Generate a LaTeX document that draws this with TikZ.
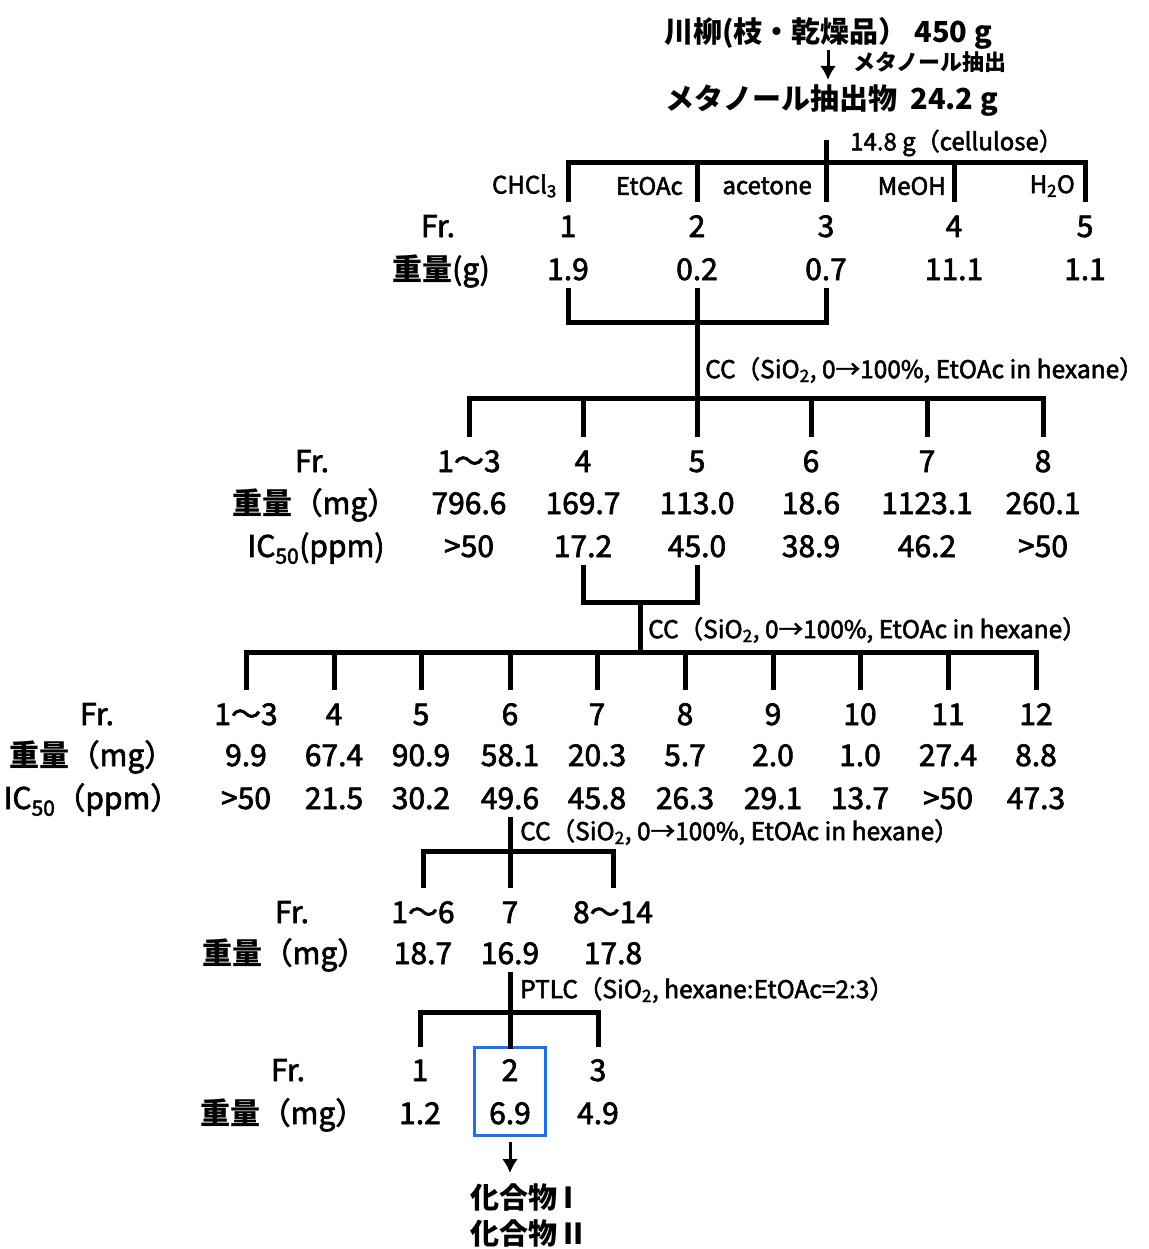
\documentclass[tikz,border=0pt]{standalone}
\usepackage{fontspec}
\setmainfont{Noto Sans CJK JP}[UprightFeatures={FakeBold=2.2}]
\usetikzlibrary{arrows.meta,calc,positioning,fit}
\definecolor{selblue}{RGB}{26,110,255}

\begin{document}
\begin{tikzpicture}[x=1pt,y=-1pt,
  br/.style={line width=5pt,line cap=rect},
  num/.style={inner sep=0pt,text height=22pt,text depth=0pt,font=\fontsize{30}{34}\selectfont},
  big/.style={inner sep=0pt,font=\bfseries\fontsize{29}{34}\selectfont},
  cond/.style={inner sep=0pt,anchor=west,font=\fontsize{24.5}{29}\selectfont},
  sel/.style={draw=selblue,line width=3pt,inner xsep=14pt,inner ysep=11pt},
  arr/.style={line width=3pt,-{Latex[length=14pt,width=16pt]}}]
\useasboundingbox (0,0) rectangle (1148,1249);

% extraction
\node[big] (t0) at (828,33) {川柳(枝・乾燥品） 450 g};
\node[big] (t1) at (832,101) {メタノール抽出物 \ 24.2 g};
\draw[arr,shorten <=1pt,shorten >=5pt] (t0.south) -- (t0.south |- t1.north);
\node[cond,font=\bfseries\fontsize{22}{26}\selectfont] (ext) at (853,62) {メタノール抽出};

% partition
\node[cond,font=\fontsize{24}{28}\selectfont] (cel) at (850,143) {14.8 g（cellulose）};
\coordinate (b1) at (826,163);
\draw[br] (b1) -- (b1 |- cel.center);
\foreach \xx/\val [count=\i] in {568/1,697/2,826/3,954/4,1085/5}
  \node[num] (nA\i) at (\xx,226) {\val};
\foreach \xx/\val [count=\i] in {568/1.9,697/0.2,826/0.7,954/11.1,1085/1.1}
  \node[num] (mA\i) at (\xx,269) {\val};
\node[num] (frA) at (438,226) {Fr.};
\node[num] (wtA) at (441,269) {\textbf{重量}(g)};
\draw[br] (nA1.north |- b1) -- (nA5.north |- b1);
\foreach \i in {1,...,5} \draw[br] (nA\i.north |- b1) -- ([yshift=15pt]nA\i.north);
\node[cond,anchor=east,font=\fontsize{24}{28}\selectfont] (s1) at (557,186) {CHCl\textsubscript{3}};
\node[cond,anchor=east,font=\fontsize{24}{28}\selectfont] (s2) at (683,186) {EtOAc};
\node[cond,anchor=east,font=\fontsize{24}{28}\selectfont] (s3) at (812,186) {acetone};
\node[cond,anchor=east,font=\fontsize{24}{28}\selectfont] (s4) at (946,186) {MeOH};
\node[cond,anchor=east,font=\fontsize{24}{28}\selectfont] (s5) at (1075,186) {H\textsubscript{2}O};

% CC 1
\coordinate (c1) at (697,322);
\coordinate (b2) at (697,398);
\draw[br] ([yshift=-10pt]mA1.south) -- (mA1.south |- c1) -- (mA3.south |- c1) -- ([yshift=-10pt]mA3.south);
\draw[br] ([yshift=-10pt]mA2.south) -- (c1) -- (b2);
\node[cond] (cc1) at (705,370) {CC（SiO\textsubscript{2}, 0→100\%, EtOAc in hexane）};
\foreach \xx/\val [count=\i] in {469/1～3,583/4,697/5,811/6,927/7,1043/8}
  \node[num] (nB\i) at (\xx,461) {\val};
\foreach \xx/\val [count=\i] in {469/796.6,583/169.7,697/113.0,811/18.6,927/1123.1,1043/260.1}
  \node[num] (mB\i) at (\xx,503) {\val};
\foreach \xx/\val [count=\i] in {469/>50,583/17.2,697/45.0,811/38.9,927/46.2,1043/>50}
  \node[num] (iB\i) at (\xx,546) {\val};
\node[num] (frB) at (312,461) {Fr.};
\node[num] (wtB) at (315,503) {\textbf{重量}（mg）};
\node[num] (icB) at (316,546) {IC\textsubscript{50}(ppm)};
\draw[br] (nB1.north |- b2) -- (nB6.north |- b2);
\foreach \i in {1,...,6} \draw[br] (nB\i.north |- b2) -- ([yshift=15pt]nB\i.north);

% CC 2
\coordinate (c2) at (640,602);
\coordinate (b3) at (640,652);
\draw[br] ([yshift=-10pt]iB2.south) -- (iB2.south |- c2) -- (iB3.south |- c2) -- ([yshift=-10pt]iB3.south);
\draw[br] (c2) -- (b3);
\node[cond] (cc2) at (648,630) {CC（SiO\textsubscript{2}, 0→100\%, EtOAc in hexane）};
\foreach \xx/\val [count=\i] in {246/1～3,334/4,421/5,510/6,597/7,685/8,773/9,860/10,948/11,1036/12}
  \node[num] (nC\i) at (\xx,714) {\val};
\foreach \xx/\val [count=\i] in {246/9.9,334/67.4,421/90.9,510/58.1,597/20.3,685/5.7,773/2.0,860/1.0,948/27.4,1036/8.8}
  \node[num] (mC\i) at (\xx,755) {\val};
\foreach \xx/\val [count=\i] in {246/>50,334/21.5,421/30.2,510/49.6,597/45.8,685/26.3,773/29.1,860/13.7,948/>50,1036/47.3}
  \node[num] (iC\i) at (\xx,798) {\val};
\node[num] (frC) at (97,714) {Fr.};
\node[num] (wtC) at (92,755) {\textbf{重量}（mg）};
\node[num] (icC) at (92,798) {IC\textsubscript{50}（ppm）};
\draw[br] (nC1.north |- b3) -- (nC10.north |- b3);
\foreach \i in {1,...,10} \draw[br] (nC\i.north |- b3) -- ([yshift=15pt]nC\i.north);

% CC 3
\coordinate (b4) at (510,851);
\node[cond] (cc3) at (520,832) {CC（SiO\textsubscript{2}, 0→100\%, EtOAc in hexane）};
\foreach \xx/\val [count=\i] in {423/1～6,510/7,613/8～14}
  \node[num] (nD\i) at (\xx,912) {\val};
\foreach \xx/\val [count=\i] in {423/18.7,510/16.9,613/17.8}
  \node[num] (mD\i) at (\xx,953) {\val};
\node[num] (frD) at (292,912) {Fr.};
\node[num] (wtD) at (285,953) {\textbf{重量}（mg）};
\draw[br] ([yshift=-10pt]iC4.south) -- ([yshift=15pt]nD2.north);
\draw[br] (nD1.north |- b4) -- (nD3.north |- b4);
\foreach \i in {1,3} \draw[br] (nD\i.north |- b4) -- ([yshift=15pt]nD\i.north);

% PTLC
\coordinate (b5) at (510,1012);
\node[cond] (pt) at (520,990) {PTLC（SiO\textsubscript{2}, hexane:EtOAc=2:3）};
\foreach \xx/\val [count=\i] in {420/1,510/2,598/3}
  \node[num] (nE\i) at (\xx,1070) {\val};
\foreach \xx/\val [count=\i] in {420/1.2,510/6.9,598/4.9}
  \node[num] (mE\i) at (\xx,1113) {\val};
\node[num] (frE) at (288,1070) {Fr.};
\node[num] (wtE) at (283,1113) {\textbf{重量}（mg）};
\node[sel,fit=(nE2)(mE2)] (hit) {};
\draw[br] ([yshift=-10pt]mD2.south) -- (hit.north);
\draw[br] (nE1.north |- b5) -- (nE3.north |- b5);
\foreach \i in {1,3} \draw[br] (nE\i.north |- b5) -- ([yshift=14pt]nE\i.north);

% compounds
\node[big,anchor=west] (cp1) at (470,1197) {化合物 I};
\node[big,anchor=west] (cp2) at (470,1233) {化合物 II};
\draw[arr,shorten <=5pt,shorten >=10pt] (hit.south) -- (hit.south |- cp1.north);
\end{tikzpicture}
\end{document}
